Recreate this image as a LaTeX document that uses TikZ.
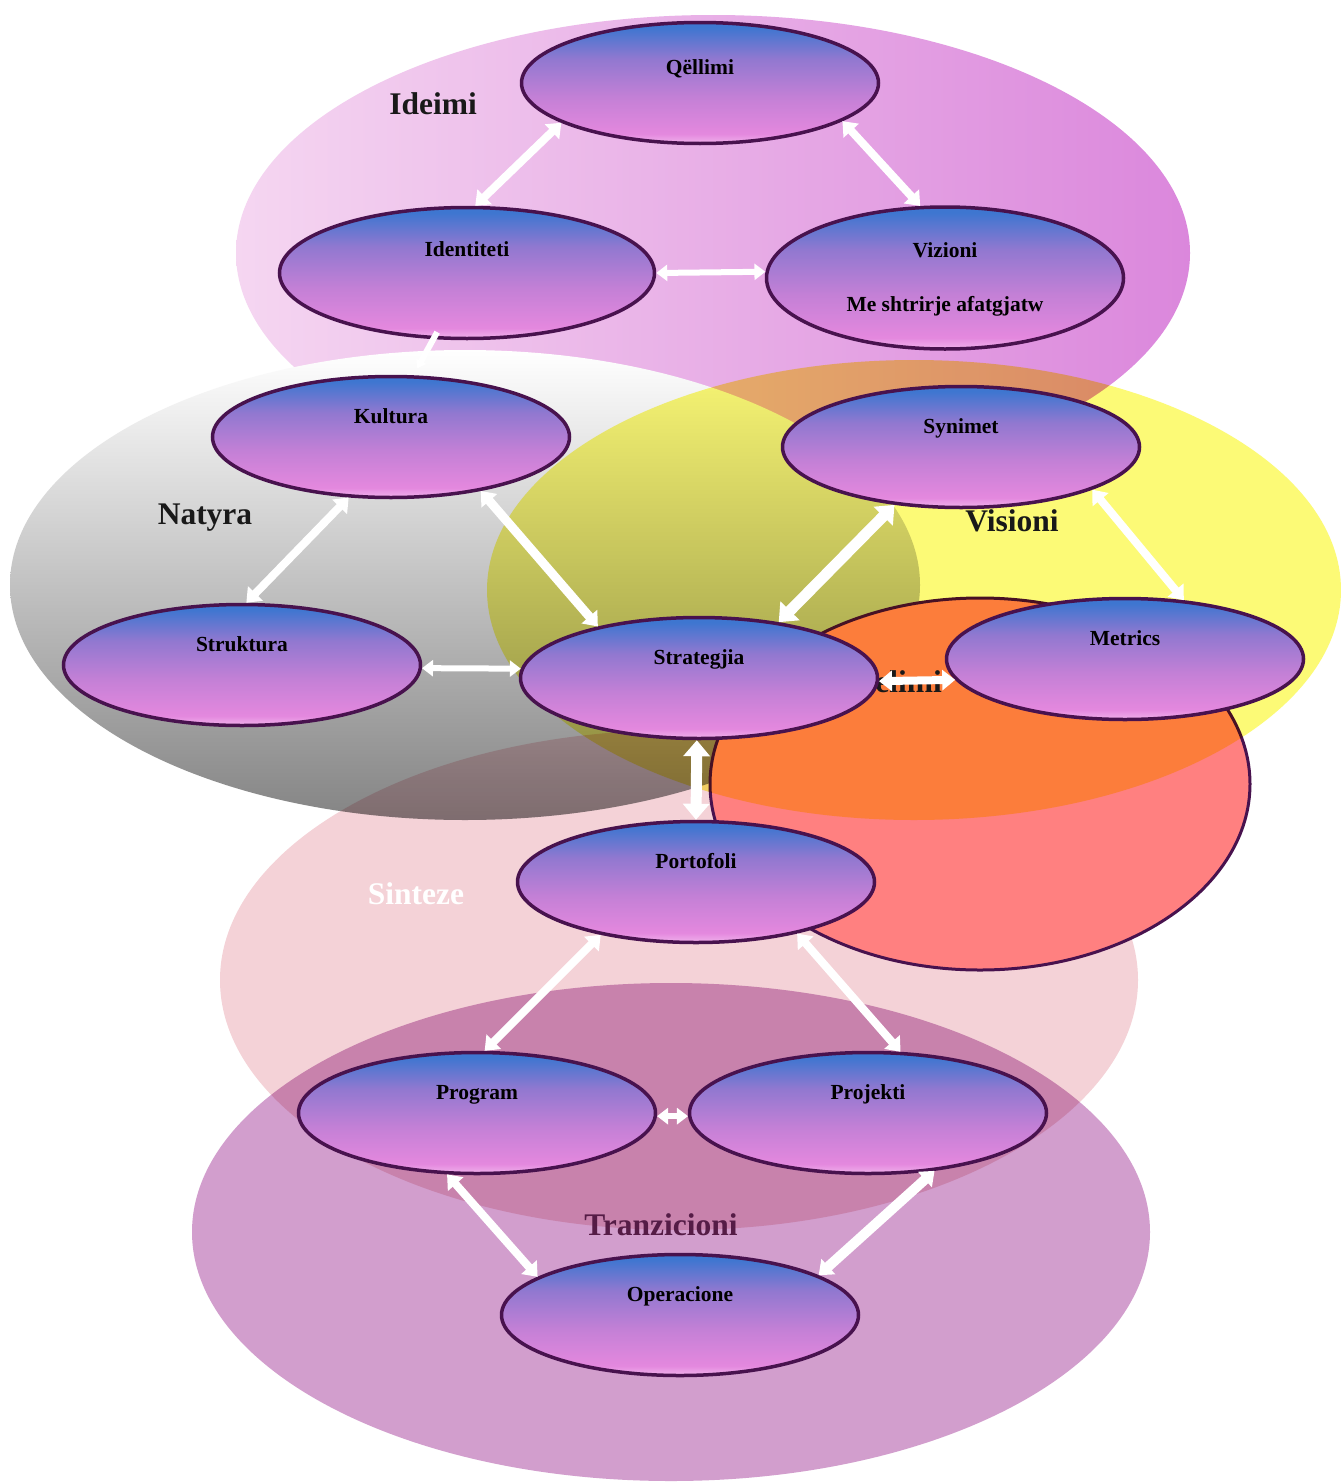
\documentclass[tikz,border=0pt]{standalone}
\usepackage{fontspec}
\setmainfont{Liberation Serif}
\usetikzlibrary{shapes.geometric,arrows.meta}

% colours of the background regions
\definecolor{idL}{RGB}{245,214,241}
\definecolor{idR}{RGB}{219,135,220}
\definecolor{natM}{RGB}{190,190,190}
\definecolor{natB}{RGB}{132,132,132}
\definecolor{sinF}{RGB}{244,210,215}
\definecolor{salF}{RGB}{255,128,128}
\definecolor{yelF}{RGB}{252,250,118}
\definecolor{trF}{RGB}{210,158,205}
\definecolor{trText}{RGB}{85,28,70}
\definecolor{ovline}{RGB}{72,18,78}

% colours of the oval bubbles (bottom to top)
\definecolor{ovA}{RGB}{240,178,236}
\definecolor{ovB}{RGB}{228,136,222}
\definecolor{ovC}{RGB}{196,128,214}
\definecolor{ovD}{RGB}{145,120,208}
\definecolor{ovE}{RGB}{62,118,208}
\pgfdeclareverticalshading{ovalshade}{100bp}{color(0bp)=(ovA); color(25bp)=(ovA); color(29bp)=(ovB); color(44bp)=(ovC); color(60bp)=(ovD); color(73bp)=(ovE); color(100bp)=(ovE)}

\tikzset{
  bubble/.style={ellipse, draw=ovline, line width=3.5pt, shading=ovalshade,
    minimum width=357pt, minimum height=121pt, inner sep=0pt},
  bubtext/.style={font=\bfseries\fontsize{21.5}{25}\selectfont, text=black,
    text height=14pt, text depth=4pt, inner sep=0pt, yshift=19pt},
  region/.style={font=\bfseries\fontsize{31.5}{36}\selectfont, text=black!90,
    text height=21pt, text depth=6pt, inner sep=0pt},
  conn/.style={draw=white, line width=8pt,
    {Triangle[width=20pt,length=13pt]}-{Triangle[width=20pt,length=13pt]}},
  thinconn/.style={draw=white, line width=6pt,
    {Triangle[width=16pt,length=11pt]}-{Triangle[width=16pt,length=11pt]}},
  thickconn/.style={draw=white, line width=11pt,
    {Triangle[width=26pt,length=16pt]}-{Triangle[width=26pt,length=16pt]}}
}

\begin{document}
\begin{tikzpicture}[x=1pt,y=-1pt]
\useasboundingbox (0,0) rectangle (1341,1483);
\fill[white] (0,0) rectangle (1341,1483);

% Ideimi region
\shade[left color=idL, right color=idR] (713,253) ellipse [x radius=477, y radius=238];
% Natyra region
\shade[top color=white, middle color=natM, bottom color=natB] (465,585) ellipse [x radius=455, y radius=235];
% Sinteze region
\fill[sinF, blend mode=multiply] (679,980) ellipse [x radius=459, y radius=250];
% Modelimi region
\filldraw[fill=salF, draw=ovline, line width=3pt] (980,784) ellipse [x radius=270, y radius=186];
% Visioni region
\fill[yelF, blend mode=multiply] (914,590) ellipse [x radius=427, y radius=230];
% Tranzicioni region
\fill[trF, blend mode=multiply] (671,1232) ellipse [x radius=479, y radius=249];

% region titles
\node[region] (tIdeimi) at (433,107) {Ideimi};
\node[region] (tNatyra) at (205,517) {Natyra};
\node[region] (tVisioni) at (1012,524) {Visioni};
\node[region, text=white] (tSinteze) at (416,897) {Sinteze};
\node[region, text=trText] (tTranz) at (661,1228) {Tranzicioni};
\node[region, anchor=base] (tModel) at (877,692) {Modelimi};

% bubbles
\node[bubble, label={[bubtext, yshift=-5pt]center:Qëllimi}] (qel) at (700,83) {};
\node[bubble, minimum width=375pt, minimum height=131pt,
      label={[bubtext, yshift=3pt]center:Identiteti}] (ide) at (467,273) {};
\node[bubble, minimum height=142pt,
      label={[bubtext, yshift=7pt]center:Vizioni},
      label={[bubtext, yshift=-47pt]center:Me shtrirje afatgjatw}] (viz) at (945,278) {};
\node[bubble, label={[bubtext]center:Kultura}] (kul) at (391,437) {};
\node[bubble, label={[bubtext]center:Synimet}] (syn) at (961,447) {};
\node[bubble, label={[bubtext]center:Struktura}] (str) at (242,665) {};
\node[bubble, label={[bubtext]center:Strategjia}] (stg) at (699,678) {};
\node[bubble, label={[bubtext]center:Metrics}] (met) at (1125,659) {};
\node[bubble, label={[bubtext]center:Portofoli}] (por) at (696,882) {};
\node[bubble, label={[bubtext]center:Program}] (prg) at (477,1113) {};
\node[bubble, label={[bubtext]center:Projekti}] (prj) at (868,1113) {};
\node[bubble, label={[bubtext]center:Operacione}] (ope) at (680,1315) {};

% connectors
\draw[conn] (qel.196) -- (ide.83);
\draw[conn] (qel.-15) -- (viz.109);
\draw[thinconn] (ide.0) -- (viz.178);
\draw[draw=white, line width=6pt, -{Triangle[width=11pt,length=8pt]},
      shorten <=-8pt, shorten >=8pt] (ide.-117) -- (kul.70);
\draw[conn] (kul.-125) -- (str.86);
\draw[conn, line width=9pt] (kul.-31) -- (stg.153);
\draw[thickconn] (syn.-139) -- (stg.35);
\draw[conn] (syn.-18) -- (met.45);
\draw[thinconn] (str.-1) -- (stg.177);
\draw[conn] (stg.-1) -- (met.-173);
\draw[thickconn] (stg.-92) -- (por.90);
\draw[conn] (por.-151) -- (prg.83);
\draw[conn] (por.-27) -- (prj.62);
\draw[thinconn] (prg.-1) -- (prj.-179);
\draw[conn] (prg.-116) -- (ope.165);
\draw[conn, line width=10pt] (prj.-41) -- (ope.16);
\end{tikzpicture}
\end{document}
